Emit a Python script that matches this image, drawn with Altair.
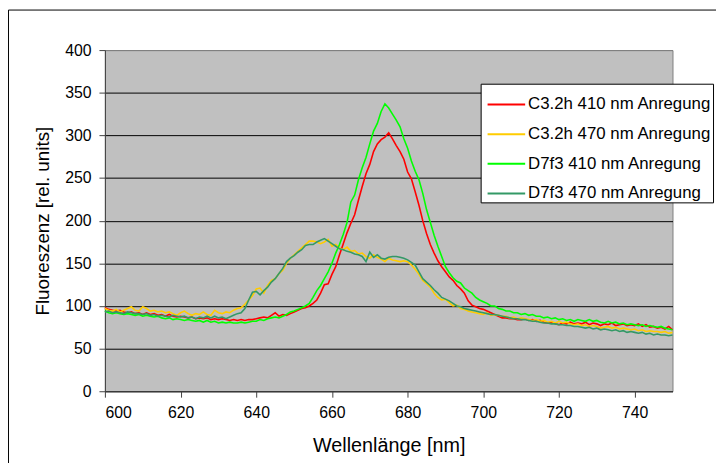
import altair as alt
import pandas as pd

wavelength = list(range(600, 751))

series_names = [
    "C3.2h 410 nm Anregung",
    "C3.2h 470 nm Anregung",
    "D7f3 410 nm Anregung",
    "D7f3 470 nm Anregung",
]
series_colors = ["#FF0000", "#FFCC00", "#00FF00", "#339966"]

c32h_410 = [
    98, 96, 95, 94, 95, 93, 92, 93, 91, 92,
    90, 92, 90, 91, 89, 90, 88, 90, 88, 87,
    88, 87, 86, 87, 85, 86, 85, 86, 84, 85,
    84, 85, 84, 83, 84, 83, 84, 83, 84, 84,
    85, 86, 87, 86, 89, 92, 88, 90, 89, 91,
    93, 95, 97, 98, 100, 103, 107, 115, 125, 126,
    137, 146, 160, 173, 186, 197, 207, 224, 240, 255,
    266, 281, 290, 295, 298, 303, 296, 288, 281, 272,
    257, 249, 234, 218, 200, 185, 172, 162, 153, 146,
    140, 134, 130, 124, 120, 115, 106, 101, 99, 97,
    96, 94, 92, 90, 88, 86, 86, 85, 85, 84,
    84, 85, 83, 84, 82, 83, 81, 80, 81, 79,
    78, 80, 79, 81, 79, 80, 79, 81, 78, 80,
    79, 77, 79, 78, 80, 77, 78, 79, 77, 78,
    77, 79, 76, 78, 75, 76, 74, 75, 73, 76,
    72,
]

c32h_470 = [
    97, 95, 94, 96, 93, 95, 97, 99, 95, 94,
    99, 97, 94, 95, 93, 94, 92, 93, 91, 89,
    92, 94, 91, 89, 91, 90, 93, 90, 89, 95,
    92, 91, 93, 92, 95, 97, 98, 102, 107, 112,
    120, 121, 115, 124, 130, 132, 138, 142, 150, 156,
    160, 164, 168, 172, 176, 176, 175, 173, 175, 178,
    170, 172, 168, 166, 169, 164, 165, 161, 162, 158,
    156, 160, 157, 155, 152, 156, 154, 153, 152, 153,
    152, 148, 143, 137, 130, 126, 122, 115, 110, 107,
    108, 104, 100, 101, 97, 96, 94, 93, 92, 91,
    90, 92, 89, 90, 89, 88, 88, 86, 87, 85,
    86, 85, 84, 83, 84, 82, 83, 81, 82, 80,
    82, 80, 81, 79, 78, 79, 77, 78, 76, 77,
    76, 74, 75, 76, 74, 75, 73, 74, 73, 72,
    73, 71, 72, 70, 71, 70, 70, 69, 70, 68,
    69,
]

d7f3_410 = [
    94, 92, 91, 92, 91, 90, 91, 90, 89, 90,
    88, 89, 88, 87, 88, 86, 85, 86, 84, 85,
    84, 83, 84, 83, 82, 83, 81, 83, 81, 82,
    80, 81, 80, 81, 80, 80, 81, 80, 81, 82,
    82, 84, 83, 85, 86, 87, 86, 88, 90, 93,
    94, 96, 98, 100, 103, 110, 118, 124, 132, 140,
    150, 162, 172, 184, 198, 222, 230, 248, 262, 274,
    290, 305, 314, 328, 337, 332, 325, 318, 310, 296,
    285, 270, 258, 248, 232, 213, 198, 183, 170, 158,
    146, 139, 133, 129, 127, 121, 118, 115, 110, 107,
    105, 103, 100, 100, 97, 96, 94, 94, 92, 92,
    90, 91, 89, 90, 88, 88, 86, 87, 85, 86,
    84, 85, 83, 84, 82, 84, 83, 82, 84, 82,
    83, 81, 80, 82, 80, 81, 79, 80, 78, 79,
    78, 77, 78, 76, 77, 76, 75, 76, 74, 73,
    72,
]

d7f3_470 = [
    93, 94, 92, 93, 92, 91, 93, 92, 91, 91,
    90, 91, 89, 90, 88, 89, 88, 87, 89, 88,
    87, 88, 86, 87, 85, 87, 86, 88, 86, 88,
    86, 87, 85, 87, 89, 91, 92, 97, 107, 116,
    117, 113, 118, 122, 128, 132, 138, 144, 152, 156,
    159, 163, 166, 171, 172, 172, 175, 177, 179, 176,
    173, 170, 167, 166, 164, 163, 161, 160, 158, 152,
    163, 157, 160, 156, 155, 157, 158, 158, 157, 156,
    154, 151, 148, 140, 132, 128, 124, 119, 115, 110,
    108, 106, 103, 100, 99, 97, 96, 95, 94, 93,
    92, 91, 90, 90, 89, 88, 87, 86, 85, 85,
    84, 84, 83, 82, 82, 81, 80, 80, 79, 79,
    78, 78, 77, 77, 76, 76, 75, 74, 75, 73,
    74, 72, 73, 72, 71, 72, 70, 71, 69, 70,
    69, 68, 69, 67, 68, 66, 67, 66, 66, 65,
    66,
]

x_ticks = [600, 620, 640, 660, 680, 700, 720, 740]
y_ticks = [0, 50, 100, 150, 200, 250, 300, 350, 400]

rows = []
for name, vals in zip(series_names, [c32h_410, c32h_470, d7f3_410, d7f3_470]):
    for w, v in zip(wavelength, vals):
        rows.append({"nm": w, "value": v, "series": name})
df = pd.DataFrame(rows)

FONT = "Liberation Sans"

lines = alt.Chart(df).mark_line(strokeWidth=1.6).encode(
    x=alt.X(
        "nm:Q",
        scale=alt.Scale(domain=[600, 750], nice=False, zero=False),
        axis=alt.Axis(
            values=x_ticks, grid=False, title="Wellenlänge [nm]",
            domainColor="#404040", tickColor="#404040", tickSize=6,
            labelFontSize=16, labelFont=FONT, labelColor="black", labelPadding=8,
            titleFontSize=20, titleFont=FONT, titleFontWeight="normal",
            titleColor="black", titlePadding=15,
        ),
    ),
    y=alt.Y(
        "value:Q",
        scale=alt.Scale(domain=[0, 400], nice=False),
        axis=alt.Axis(
            values=y_ticks, grid=True,
            gridColor={"condition": {"test": "datum.value === 400", "value": "#808080"},
                       "value": "black"},
            gridOpacity=1, gridWidth=1,
            title="Fluoreszenz [rel. units]",
            domainColor="#404040", tickColor="#404040", tickSize=6,
            labelFontSize=16, labelFont=FONT, labelColor="black", labelPadding=8,
            titleFontSize=19, titleFont=FONT, titleFontWeight="normal",
            titleColor="black", titlePadding=12,
        ),
    ),
    color=alt.Color(
        "series:N",
        scale=alt.Scale(domain=series_names, range=series_colors),
        title=None,
        legend=alt.Legend(
            orient="none", legendX=380, legendY=34,
            fillColor="white", strokeColor="black", padding=1,
            symbolType="stroke", symbolSize=1444, symbolStrokeWidth=2,
            symbolOffset=5,
            labelFontSize=17, labelFont=FONT, labelColor="black",
            labelLimit=400, rowPadding=2, labelOffset=2,
        ),
    ),
    order=alt.Order("nm:Q"),
)

frame = alt.Chart(pd.DataFrame({"a": [0]})).mark_rect(
    filled=False, stroke="black", strokeWidth=1
).encode(
    x=alt.value(-97.5), x2=alt.value(700), y=alt.value(-40.5), y2=alt.value(500)
)

chart = alt.layer(frame, lines).properties(
    width=574, height=345,
    autosize=alt.AutoSizeParams(type="none"),
    padding={"left": 98, "top": 40, "right": 44, "bottom": 70},
    background="white",
).configure_view(fill="#C0C0C0", stroke="#808080", strokeWidth=1)

chart.save("out.html", embed_options={"renderer": "svg", "actions": False})
